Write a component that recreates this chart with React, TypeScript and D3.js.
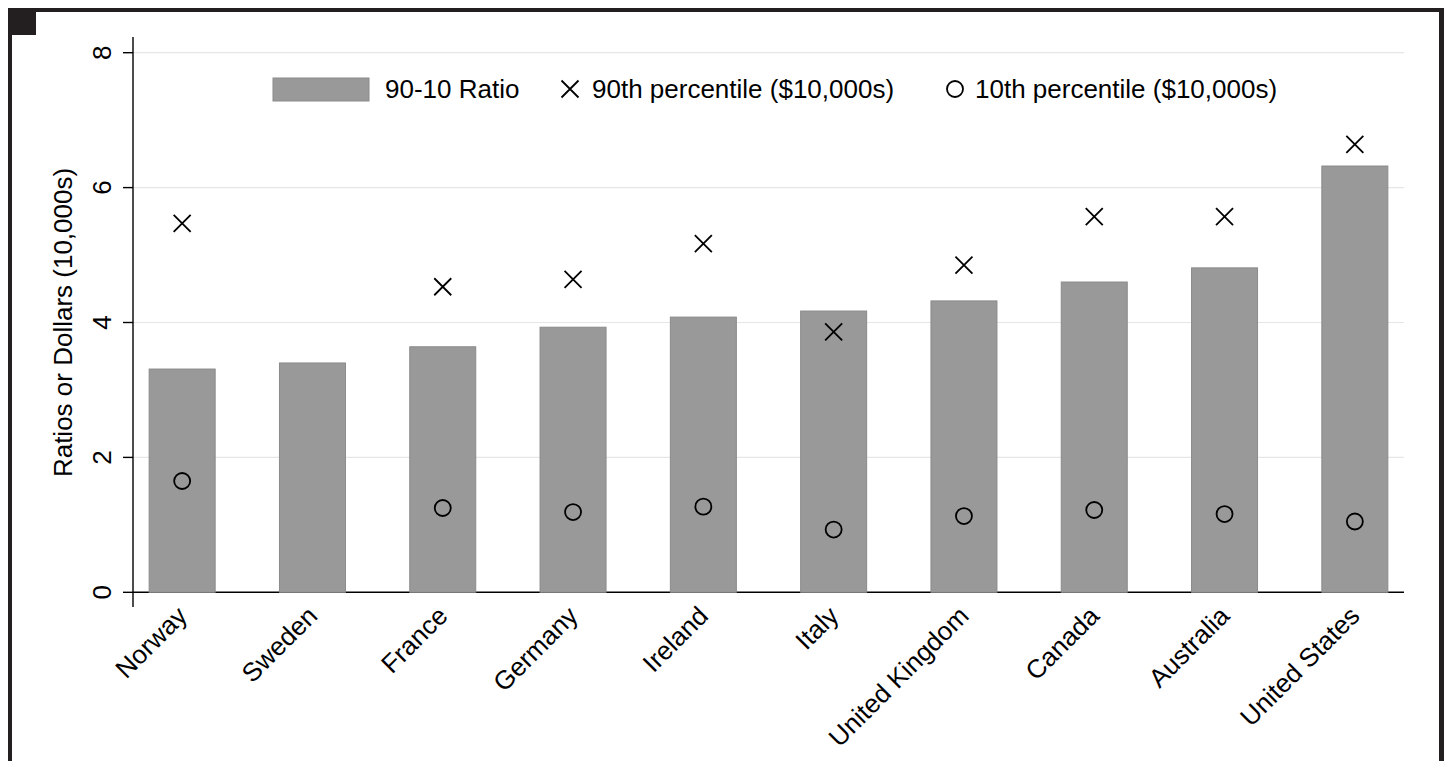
import React from "react";
import * as d3 from "d3";

const countries = ["Norway", "Sweden", "France", "Germany", "Ireland", "Italy", "United Kingdom", "Canada", "Australia", "United States"];
const ratio9010 = [3.31, 3.4, 3.64, 3.93, 4.08, 4.17, 4.32, 4.6, 4.81, 6.32];
const p90 = [5.47, null, 4.53, 4.64, 5.17, 3.86, 4.85, 5.57, 5.57, 6.64];
const p10 = [1.65, null, 1.25, 1.19, 1.27, 0.93, 1.13, 1.22, 1.16, 1.05];
const yTicks = [0, 2, 4, 6, 8];
const legendLabels = ["90-10 Ratio", "90th percentile ($10,000s)", "10th percentile ($10,000s)"];
const yTitle = "Ratios or Dollars (10,000s)";

const W = 1445;
const H = 761;
const FONT = "'Liberation Sans', Arial, Helvetica, sans-serif";
const FS = 26;
const FRAME = "#231f20";

export default function App() {
  const x = d3.scaleBand<string>().domain(countries).range([133, 1404]).paddingInner(0.4935).paddingOuter(0.124);
  const y = d3.scaleLinear().domain([0, 8]).range([592.3, 52.7]);
  const bw = x.bandwidth();
  const cx = (c: string) => (x(c) as number) + bw / 2;
  const xm = 8.5;

  const cross = (px: number, py: number, key: string) => (
    <path key={key} d={`M${px - xm},${py - xm}L${px + xm},${py + xm}M${px - xm},${py + xm}L${px + xm},${py - xm}`} stroke="#000" strokeWidth={1.8} fill="none" />
  );

  return (
    <svg width={W} height={H} style={{ position: "absolute", left: 0, top: 0 }} fontFamily={FONT}>
      <rect x={0} y={0} width={W} height={H} fill="#fff" />
      {/* frame */}
      <rect x={8} y={8} width={1436} height={4} fill={FRAME} />
      <rect x={8} y={8} width={4} height={H} fill={FRAME} />
      <rect x={1439} y={8} width={5} height={H} fill={FRAME} />
      <rect x={8} y={8} width={28} height={27} fill={FRAME} />

      {/* gridlines */}
      {yTicks.filter((t) => t > 0).map((t) => (
        <line key={"g" + t} x1={133} x2={1404} y1={y(t)} y2={y(t)} stroke="#e6e6e6" strokeWidth={1.2} />
      ))}

      {/* x axis line */}
      <line x1={133} x2={1404} y1={y(0)} y2={y(0)} stroke="#000" strokeWidth={1.4} />

      {/* bars */}
      {countries.map((c, i) => (
        <rect key={"b" + c} x={x(c)} y={y(ratio9010[i])} width={bw} height={y(0) - y(ratio9010[i])} fill="#999999" stroke="#8a8a8a" strokeWidth={1} />
      ))}

      {/* markers */}
      {countries.map((c, i) => (p90[i] == null ? null : cross(cx(c), y(p90[i] as number), "x" + c)))}
      {countries.map((c, i) =>
        p10[i] == null ? null : (
          <circle key={"o" + c} cx={cx(c)} cy={y(p10[i] as number)} r={8} fill="none" stroke="#000" strokeWidth={1.8} />
        )
      )}

      {/* y axis */}
      <line x1={133} x2={133} y1={37} y2={607} stroke="#000" strokeWidth={1.4} />
      {yTicks.map((t) => (
        <g key={"t" + t}>
          <line x1={123} x2={133} y1={y(t)} y2={y(t)} stroke="#000" strokeWidth={1.4} />
          <text transform={`translate(111,${y(t)}) rotate(-90)`} textAnchor="middle" fontSize={FS} fill="#000">
            {t}
          </text>
        </g>
      ))}
      <text transform={`translate(72,${(y(0) + y(8)) / 2}) rotate(-90)`} textAnchor="middle" fontSize={FS} fill="#000">
        {yTitle}
      </text>

      {/* x labels */}
      {countries.map((c) => (
        <text key={"l" + c} transform={`translate(${cx(c)},611) rotate(-45)`} textAnchor="end" dy="0.35em" fontSize={FS} fill="#000">
          {c}
        </text>
      ))}

      {/* legend */}
      <rect x={273} y={78} width={96} height={23} fill="#999999" stroke="#8a8a8a" strokeWidth={1} />
      <text x={385} y={98} fontSize={FS} fill="#000">{legendLabels[0]}</text>
      {cross(570, 89, "legx")}
      <text x={592} y={98} fontSize={FS} fill="#000">{legendLabels[1]}</text>
      <circle cx={955} cy={89} r={8} fill="none" stroke="#000" strokeWidth={1.8} />
      <text x={975} y={98} fontSize={FS} fill="#000">{legendLabels[2]}</text>
    </svg>
  );
}
